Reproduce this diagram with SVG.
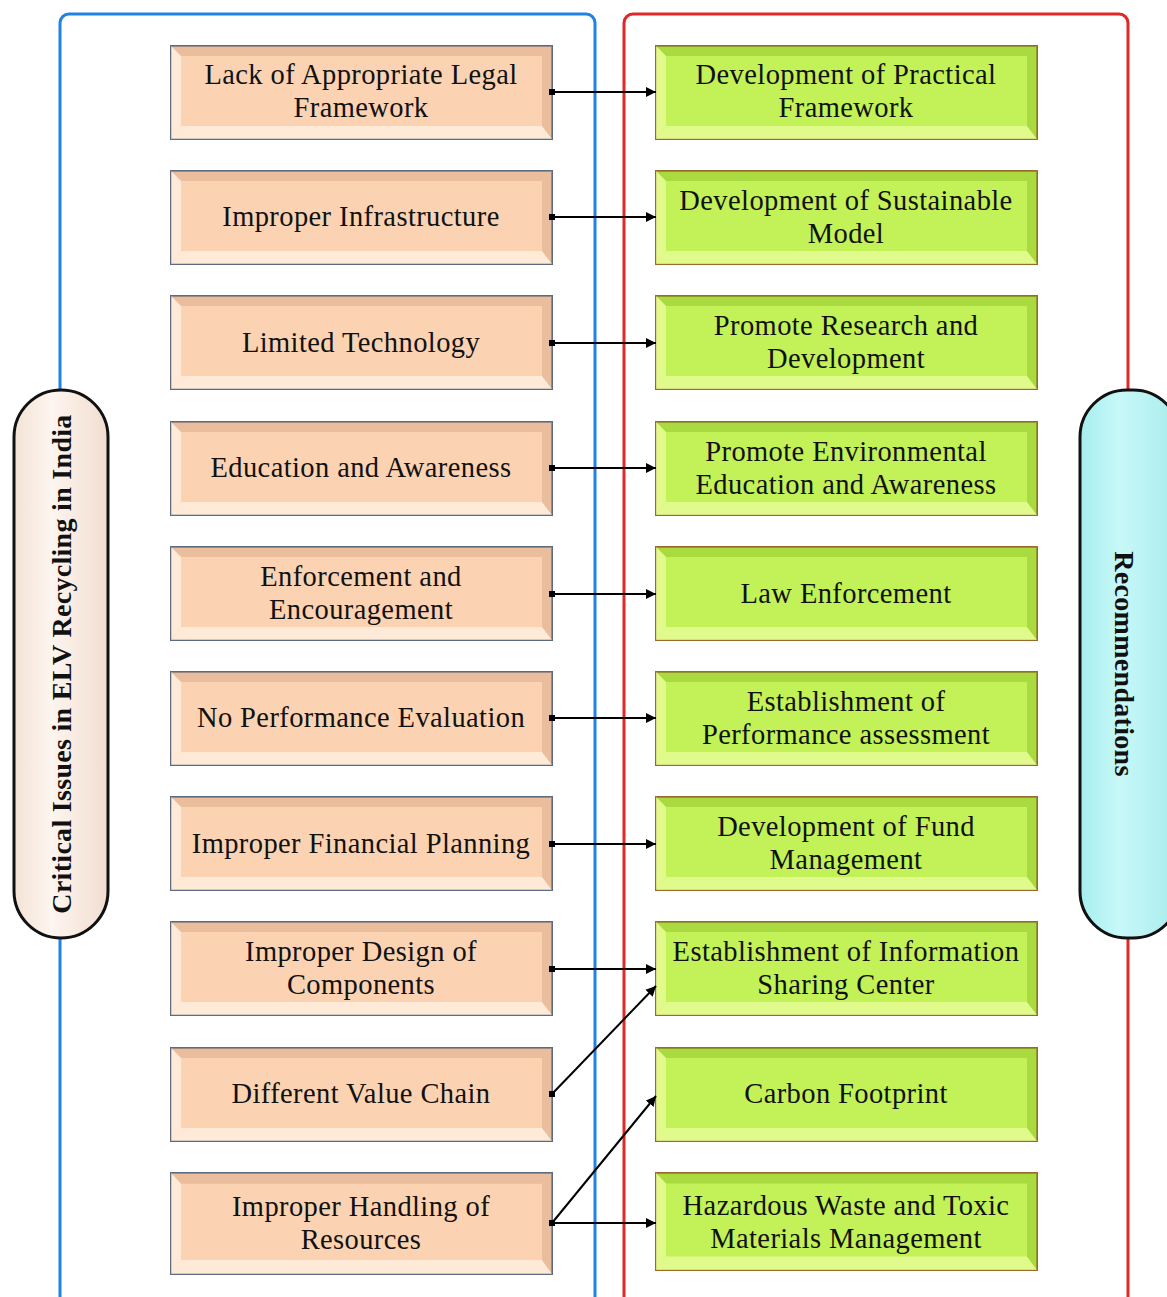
<svg xmlns="http://www.w3.org/2000/svg" width="1167" height="1297" viewBox="0 0 1167 1297">
<defs>
<style>
.t{font-family:"Liberation Serif","Times New Roman",serif;font-size:28.5px;letter-spacing:0.4px;fill:#111;text-anchor:middle}
.lb{fill:#fbd3b2;stroke:#5d6b80;stroke-width:2}
.rb{fill:#c2f257;stroke:#9a6a2a;stroke-width:2}
.bevL{fill:#fff3e6;opacity:0.7}
.bevD{fill:#d9a888;opacity:0.5}
.bevLg{fill:#e9fb9a;opacity:0.8}
.bevDg{fill:#8fc22a;opacity:0.5}
.c{stroke:#000;stroke-width:2;fill:none;marker-end:url(#ah);marker-start:url(#dot)}
</style>
<marker id="ah" viewBox="0 0 10 10" refX="10" refY="5" markerWidth="10" markerHeight="11" orient="auto" markerUnits="userSpaceOnUse">
<path d="M0,0 L10,5 L0,10 z" fill="#000"/>
</marker>
<marker id="dot" viewBox="0 0 6 6" refX="3" refY="3" markerWidth="6" markerHeight="6" markerUnits="userSpaceOnUse">
<rect x="0" y="0" width="6" height="6" fill="#000"/>
</marker>
<linearGradient id="pillL" x1="0" y1="0" x2="1" y2="0">
<stop offset="0" stop-color="#f3e3d6"/><stop offset="0.4" stop-color="#fdf5ef"/><stop offset="1" stop-color="#f1ddd0"/>
</linearGradient>
<linearGradient id="pillR" x1="0" y1="0" x2="1" y2="0">
<stop offset="0" stop-color="#a6eeee"/><stop offset="0.4" stop-color="#c8f8f8"/><stop offset="1" stop-color="#a8ecec"/>
</linearGradient>
<g id="bevelL">
<polygon class="bevD" points="0,0 381,0 371,10 10,10"/>
<polygon class="bevL" points="0,93 381,93 371,80 10,80"/>
<polygon class="bevD" points="381,0 381,93 371,80 371,10"/>
<polygon class="bevL" points="0,0 0,93 10,80 10,10"/>
</g>
<g id="bevelR">
<polygon class="bevDg" points="0,0 381,0 371,10 10,10"/>
<polygon class="bevLg" points="0,93 381,93 371,80 10,80"/>
<polygon class="bevDg" points="381,0 381,93 371,80 371,10"/>
<polygon class="bevLg" points="0,0 0,93 10,80 10,10"/>
</g>
</defs>
<rect width="1167" height="1297" fill="#ffffff"/>
<g id="containers">
<rect x="60" y="14" width="535" height="1300" rx="9" fill="none" stroke="#1e82e6" stroke-width="3"/>
<rect x="624" y="14" width="504" height="1300" rx="9" fill="none" stroke="#e02828" stroke-width="3"/>
</g>
<g id="pill-left">
<rect x="14" y="390" width="94" height="548" rx="47" fill="url(#pillL)" stroke="#111" stroke-width="3"/>
<text class="t" transform="translate(71,664) rotate(-90)" style="font-weight:bold;font-size:28px;letter-spacing:0.3px">Critical Issues in ELV Recycling in India</text>
</g>
<g id="pill-right">
<rect x="1080" y="390" width="100" height="548" rx="47" fill="url(#pillR)" stroke="#111" stroke-width="3"/>
<text class="t" transform="translate(1115,664) rotate(90)" style="font-weight:bold;font-size:28px;letter-spacing:0.3px">Recommendations</text>
</g>
<g id="left-nodes">
<g id="L1" transform="translate(171,46)"><rect class="lb" width="381" height="93"/><use href="#bevelL"/><text class="t" x="190" y="38">Lack of Appropriate Legal</text><text class="t" x="190" y="71">Framework</text></g>
<g id="L2" transform="translate(171,171)"><rect class="lb" width="381" height="93"/><use href="#bevelL"/><text class="t" x="190" y="55">Improper Infrastructure</text></g>
<g id="L3" transform="translate(171,296)"><rect class="lb" width="381" height="93"/><use href="#bevelL"/><text class="t" x="190" y="56">Limited Technology</text></g>
<g id="L4" transform="translate(171,422)"><rect class="lb" width="381" height="93"/><use href="#bevelL"/><text class="t" x="190" y="55">Education and Awareness</text></g>
<g id="L5" transform="translate(171,547)"><rect class="lb" width="381" height="93"/><use href="#bevelL"/><text class="t" x="190" y="39">Enforcement and</text><text class="t" x="190" y="72">Encouragement</text></g>
<g id="L6" transform="translate(171,672)"><rect class="lb" width="381" height="93"/><use href="#bevelL"/><text class="t" x="190" y="55">No Performance Evaluation</text></g>
<g id="L7" transform="translate(171,797)"><rect class="lb" width="381" height="93"/><use href="#bevelL"/><text class="t" x="190" y="56">Improper Financial Planning</text></g>
<g id="L8" transform="translate(171,922)"><rect class="lb" width="381" height="93"/><use href="#bevelL"/><text class="t" x="190" y="39">Improper Design of</text><text class="t" x="190" y="72">Components</text></g>
<g id="L9" transform="translate(171,1048)"><rect class="lb" width="381" height="93"/><use href="#bevelL"/><text class="t" x="190" y="55">Different Value Chain</text></g>
<g id="L10" transform="translate(171,1173)"><rect class="lb" width="381" height="101"/><use href="#bevelL" transform="scale(1,1.086)"/><text class="t" x="190" y="43">Improper Handling of</text><text class="t" x="190" y="76">Resources</text></g>
</g>
<g id="right-nodes">
<g id="R1" transform="translate(656,46)"><rect class="rb" width="381" height="93"/><use href="#bevelR"/><text class="t" x="190" y="38">Development of Practical</text><text class="t" x="190" y="71">Framework</text></g>
<g id="R2" transform="translate(656,171)"><rect class="rb" width="381" height="93"/><use href="#bevelR"/><text class="t" x="190" y="39">Development of Sustainable</text><text class="t" x="190" y="72">Model</text></g>
<g id="R3" transform="translate(656,296)"><rect class="rb" width="381" height="93"/><use href="#bevelR"/><text class="t" x="190" y="39">Promote Research and</text><text class="t" x="190" y="72">Development</text></g>
<g id="R4" transform="translate(656,422)"><rect class="rb" width="381" height="93"/><use href="#bevelR"/><text class="t" x="190" y="39">Promote Environmental</text><text class="t" x="190" y="72">Education and Awareness</text></g>
<g id="R5" transform="translate(656,547)"><rect class="rb" width="381" height="93"/><use href="#bevelR"/><text class="t" x="190" y="56">Law Enforcement</text></g>
<g id="R6" transform="translate(656,672)"><rect class="rb" width="381" height="93"/><use href="#bevelR"/><text class="t" x="190" y="39">Establishment of</text><text class="t" x="190" y="72">Performance assessment</text></g>
<g id="R7" transform="translate(656,797)"><rect class="rb" width="381" height="93"/><use href="#bevelR"/><text class="t" x="190" y="39">Development of Fund</text><text class="t" x="190" y="72">Management</text></g>
<g id="R8" transform="translate(656,922)"><rect class="rb" width="381" height="93"/><use href="#bevelR"/><text class="t" x="190" y="39">Establishment of Information</text><text class="t" x="190" y="72">Sharing Center</text></g>
<g id="R9" transform="translate(656,1048)"><rect class="rb" width="381" height="93"/><use href="#bevelR"/><text class="t" x="190" y="55">Carbon Footprint</text></g>
<g id="R10" transform="translate(656,1173)"><rect class="rb" width="381" height="97"/><use href="#bevelR" transform="scale(1,1.043)"/><text class="t" x="190" y="42">Hazardous Waste and Toxic</text><text class="t" x="190" y="75">Materials Management</text></g>
</g>
<g id="connectors">
<line class="c" x1="552" y1="92" x2="656" y2="92"/>
<line class="c" x1="552" y1="217" x2="656" y2="217"/>
<line class="c" x1="552" y1="343" x2="656" y2="343"/>
<line class="c" x1="552" y1="468" x2="656" y2="468"/>
<line class="c" x1="552" y1="594" x2="656" y2="594"/>
<line class="c" x1="552" y1="718" x2="656" y2="718"/>
<line class="c" x1="552" y1="844" x2="656" y2="844"/>
<line class="c" x1="552" y1="969" x2="656" y2="969"/>
<line class="c" x1="552" y1="1094" x2="656" y2="986"/>
<line class="c" x1="552" y1="1223" x2="656" y2="1096"/>
<line class="c" x1="552" y1="1223" x2="656" y2="1223"/>
</g>
</svg>
